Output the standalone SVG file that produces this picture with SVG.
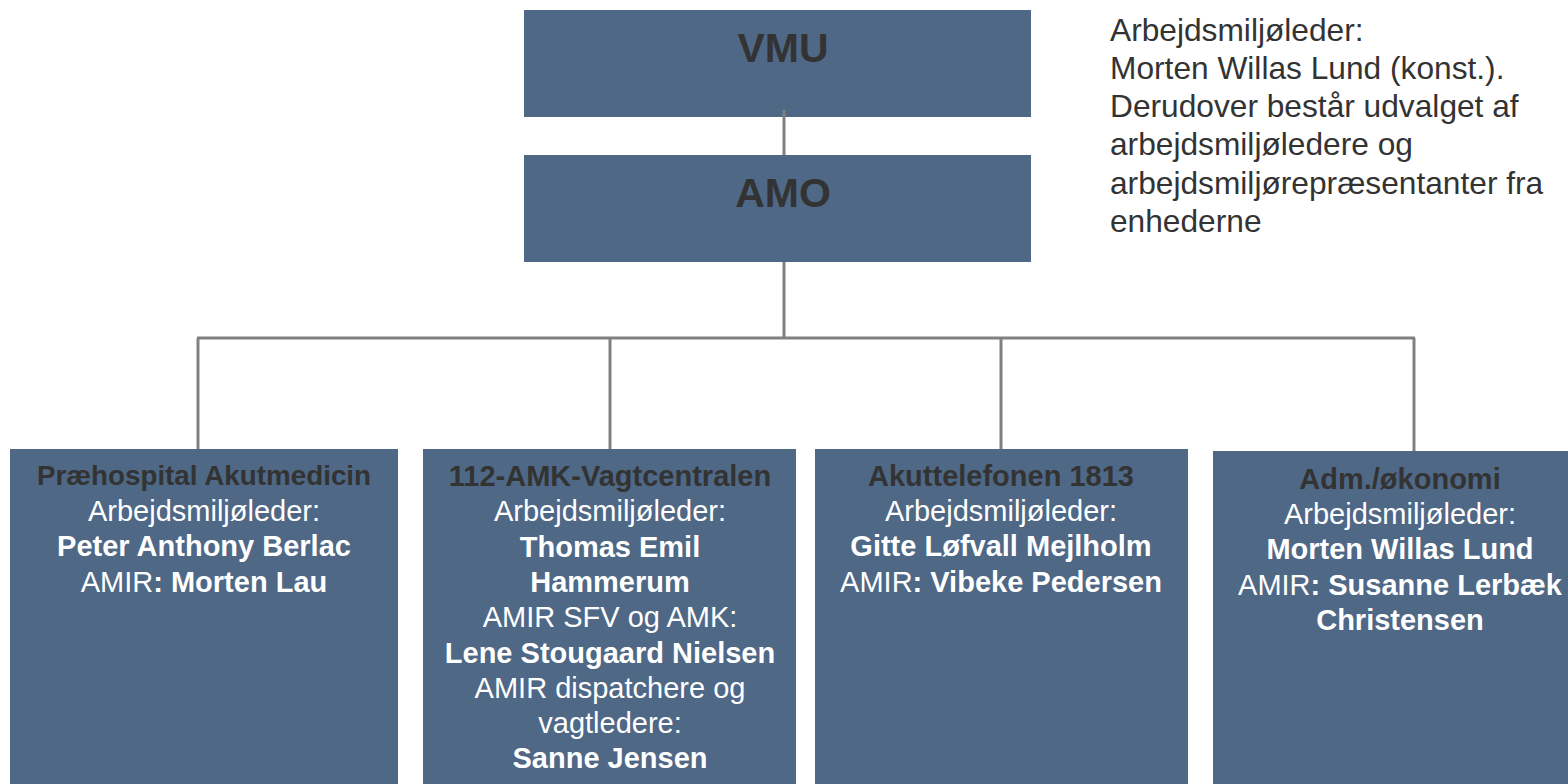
<svg xmlns="http://www.w3.org/2000/svg" width="1568" height="784" viewBox="0 0 1568 784">
<style>
.box{fill:#4e6886}
.t{font-family:"Liberation Sans",Arial,sans-serif;text-anchor:middle;font-size:29px;fill:#ffffff}
.b{font-weight:bold}
.dk{fill:#333333}
.head{font-family:"Liberation Sans",Arial,sans-serif;text-anchor:middle;font-size:41px;font-weight:bold;fill:#333333}
.note{font-family:"Liberation Sans",Arial,sans-serif;font-size:31.7px;fill:#333333}
.conn{stroke:#808080;stroke-width:3;fill:none}
</style>
<rect width="1568" height="784" fill="#ffffff"/>
<g id="vmu">
<rect class="box" x="524" y="10" width="507" height="107"/>
<text class="head" x="783" y="62">VMU</text>
</g>
<g id="amo">
<rect class="box" x="524" y="155" width="507" height="107"/>
<text class="head" x="783" y="207">AMO</text>
</g>
<g id="note">
<text class="note" x="1110" y="41">Arbejdsmiljøleder:</text>
<text class="note" x="1110" y="79">Morten Willas Lund (konst.).</text>
<text class="note" x="1110" y="117">Derudover består udvalget af</text>
<text class="note" x="1110" y="155">arbejdsmiljøledere og</text>
<text class="note" x="1110" y="194">arbejdsmiljørepræsentanter fra</text>
<text class="note" x="1110" y="232">enhederne</text>
</g>
<g id="praehospital">
<rect class="box" x="10" y="449" width="388" height="335"/>
<text class="t b dk" x="204" y="485" style="font-size:27.8px">Præhospital Akutmedicin</text>
<text class="t" x="204" y="521">Arbejdsmiljøleder:</text>
<text class="t b" x="204" y="556">Peter Anthony Berlac</text>
<text class="t" x="204" y="592">AMIR<tspan class="b">: Morten Lau</tspan></text>
</g>
<g id="vagtcentralen">
<rect class="box" x="423" y="449" width="373" height="335"/>
<text class="t b dk" x="610" y="486">112-AMK-Vagtcentralen</text>
<text class="t" x="610" y="521">Arbejdsmiljøleder:</text>
<text class="t b" x="610" y="557">Thomas Emil</text>
<text class="t b" x="610" y="592">Hammerum</text>
<text class="t" x="610" y="627">AMIR SFV og AMK:</text>
<text class="t b" x="610" y="663">Lene Stougaard Nielsen</text>
<text class="t" x="610" y="698">AMIR dispatchere og</text>
<text class="t" x="610" y="733">vagtledere:</text>
<text class="t b" x="610" y="768">Sanne Jensen</text>
</g>
<g id="akuttelefonen">
<rect class="box" x="815" y="449" width="373" height="335"/>
<text class="t b dk" x="1001" y="486">Akuttelefonen 1813</text>
<text class="t" x="1001" y="521">Arbejdsmiljøleder:</text>
<text class="t b" x="1001" y="556">Gitte Løfvall Mejlholm</text>
<text class="t" x="1001" y="592">AMIR<tspan class="b">: Vibeke Pedersen</tspan></text>
</g>
<g id="adm">
<rect class="box" x="1213" y="451" width="373" height="333"/>
<text class="t b dk" x="1400" y="489">Adm./økonomi</text>
<text class="t" x="1400" y="524">Arbejdsmiljøleder:</text>
<text class="t b" x="1400" y="559">Morten Willas Lund</text>
<text class="t" x="1400" y="595">AMIR<tspan class="b">: Susanne Lerbæk</tspan></text>
<text class="t b" x="1400" y="630">Christensen</text>
</g>
<g id="connectors">
<line class="conn" x1="784" y1="110" x2="784" y2="155"/>
<line class="conn" x1="784" y1="262" x2="784" y2="338"/>
<line class="conn" x1="197" y1="338" x2="1415" y2="338"/>
<line class="conn" x1="198" y1="338" x2="198" y2="449"/>
<line class="conn" x1="610" y1="338" x2="610" y2="449"/>
<line class="conn" x1="1001" y1="338" x2="1001" y2="449"/>
<line class="conn" x1="1414" y1="338" x2="1414" y2="451"/>
</g>
</svg>
